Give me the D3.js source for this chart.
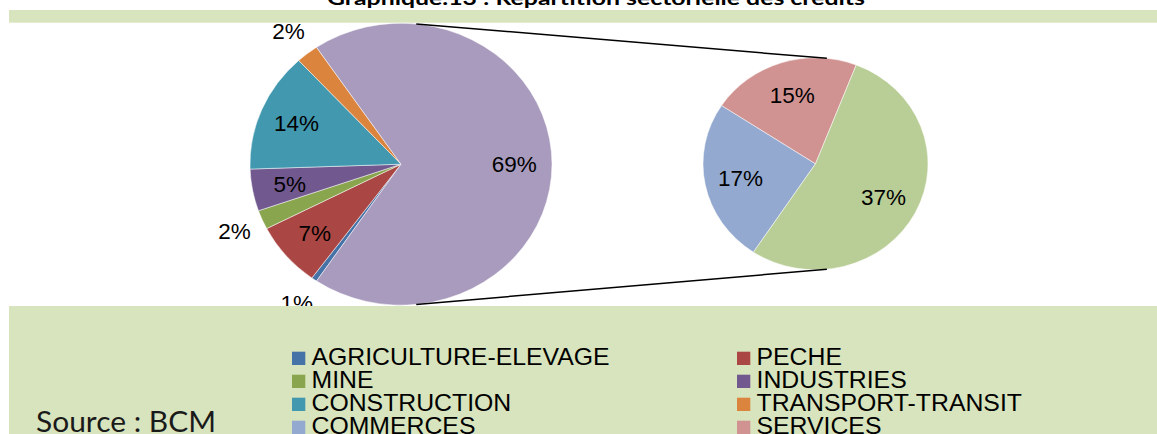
<!DOCTYPE html>
<html><head><meta charset="utf-8">
<script src="https://cdn.jsdelivr.net/npm/d3@7"></script>
<style>html,body{margin:0;padding:0;background:#fff;overflow:hidden}</style>
</head><body>
<svg id="chart" width="1157" height="434"></svg>
<script>
// ---- data ----
const titleText = "Graphique.13 : Répartition sectorielle des crédits";
const sourceText = "Source : BCM";
const mainCategories = ["AGRICULTURE-ELEVAGE","PECHE","MINE","INDUSTRIES","CONSTRUCTION","TRANSPORT-TRANSIT","Autre"];
const mainValues = [0.6, 7.4, 2.2, 4.8, 13.7, 2.4, 68.9];
const mainColors = ["#4572A7","#AA4643","#89A54E","#71588F","#4198AF","#DB843D","#A99BBD"];
const subCategories = ["COMMERCES","SERVICES","AUTRES"];
const subValues = [17.2, 14.9, 36.8];
const subColors = ["#93A9CF","#D19392","#B9CD96"];
const legendItems = ["AGRICULTURE-ELEVAGE","PECHE","MINE","INDUSTRIES","CONSTRUCTION","TRANSPORT-TRANSIT","COMMERCES","SERVICES"];
const legendColors = ["#4572A7","#AA4643","#89A54E","#71588F","#4198AF","#DB843D","#93A9CF","#D19392"];

// ---- layout ----
const W = 1157, H = 434;
const svg = d3.select("#chart");
const bandColor = "#d8e4bd";
const L = {cx: 401, cy: 164.2, rx: 151, ry: 141};
const R = {cx: 815.5, cy: 163.8, rx: 112.5, ry: 106};
const deg = Math.PI / 180;

svg.append("rect").attr("x",0).attr("y",0).attr("width",W).attr("height",H).attr("fill","#fff");

// title (clipped at top)
svg.append("text").attr("x",327).attr("y",4.5)
  .attr("textLength",538).attr("lengthAdjust","spacingAndGlyphs")
  .style("font-family","Lato, 'Liberation Sans', sans-serif").style("font-weight","bold")
  .style("font-size","19px").attr("fill","#000").text(titleText);

// top band
svg.append("rect").attr("x",9).attr("y",10).attr("width",W-9).attr("height",12.7).attr("fill",bandColor);

// ---- main pie ----
const otherFrac = mainValues[mainValues.length-1] / d3.sum(mainValues);
const mainStart = Math.PI/2 + otherFrac*Math.PI;
const pieMain = d3.pie().sort(null).value(d=>d).startAngle(mainStart).endAngle(mainStart + 2*Math.PI);
const pieSub = d3.pie().sort(null).value(d=>d).startAngle(213.5*deg).endAngle(213.5*deg + 2*Math.PI);

function drawPie(P, values, colors, pie) {
  const arcs = pie(values);
  const arc = d3.arc().innerRadius(0).outerRadius(P.rx);
  const g = svg.append("g").attr("transform",`translate(${P.cx},${P.cy}) scale(1,${P.ry/P.rx})`);
  g.selectAll("path").data(arcs).enter().append("path")
    .attr("d",arc).attr("fill",(d,i)=>colors[i])
    .attr("stroke","#ffffff").attr("stroke-width",0.5).attr("vector-effect","non-scaling-stroke");
  return arcs;
}
const mainArcs = drawPie(L, mainValues, mainColors, pieMain);
const subArcs = drawPie(R, subValues, subColors, pieSub);

// connector lines
const connAngle = 5.8*deg;
function pt(P, a){ return [P.cx + P.rx*Math.sin(a), P.cy - P.ry*Math.cos(a)]; }
[[connAngle, connAngle],[Math.PI-connAngle, Math.PI-connAngle]].forEach(([a1,a2])=>{
  const p1 = pt(L,a1), p2 = pt(R,a2);
  svg.append("line").attr("x1",p1[0]).attr("y1",p1[1]).attr("x2",p2[0]).attr("y2",p2[1])
    .attr("stroke","#000").attr("stroke-width",1.5);
});

// labels
const total = d3.sum(mainValues);
function label(P, d, f) {
  const mid = (d.startAngle + d.endAngle)/2;
  const x = P.cx + P.rx*f*Math.sin(mid), y = P.cy - P.ry*f*Math.cos(mid);
  svg.append("text").attr("x",x).attr("y",y).attr("dy","0.35em").attr("text-anchor","middle")
    .style("font-family","'Liberation Sans', Arial, sans-serif").style("font-size","22.5px")
    .attr("fill","#000").text(Math.round(d.value/total*100) + "%");
}
mainArcs.forEach(d => label(L, d, d.value < 3 ? 1.2 : 0.75));
subArcs.forEach(d => label(R, d, 0.68));

// bottom band
svg.append("rect").attr("x",9).attr("y",306).attr("width",W-9).attr("height",H-306).attr("fill",bandColor);

// legend
const colX = [292, 737], row0 = 365, rowH = 23;
legendItems.forEach((name,i)=>{
  const cx = colX[i%2], by = row0 + Math.floor(i/2)*rowH;
  svg.append("rect").attr("x",cx).attr("y",by-13.3).attr("width",13.3).attr("height",13.3).attr("fill",legendColors[i]);
  svg.append("text").attr("x",cx+19.5).attr("y",by)
    .style("font-family","'Liberation Sans', Arial, sans-serif").style("font-size","24.8px")
    .attr("fill","#000").text(name);
});

// source
svg.append("text").attr("x",36).attr("y",431.7).attr("textLength",180).attr("lengthAdjust","spacingAndGlyphs")
  .style("font-family","Lato, 'Liberation Sans', sans-serif").style("font-size","28px")
  .attr("fill","#1a1a1a").text(sourceText);
</script>
</body></html>
